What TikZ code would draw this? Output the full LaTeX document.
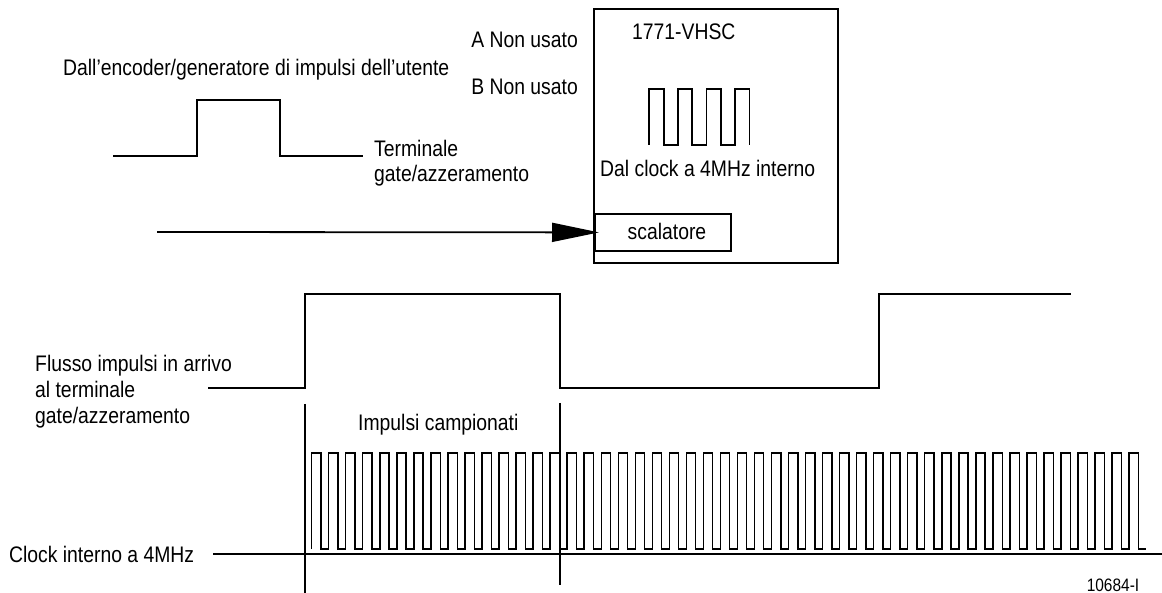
\documentclass[tikz,border=0pt]{standalone}
\usepackage{fontspec}
\setmainfont{Liberation Sans}[FakeStretch=0.86]
\usetikzlibrary{arrows.meta}

\tikzset{
  lbl/.style={font=\fontsize{22.5}{24}\selectfont, inner sep=0pt},
  wire/.style={line width=1.8pt, line join=miter},
  clk/.style={line width=1.4pt, line join=miter},
}

\begin{document}
\begin{tikzpicture}[x=1pt, y=-1pt]
  \useasboundingbox (0,0) rectangle (1162,593);

  % encoder pulse
  \draw[wire] (113,156) -- (197,156) -- (197,100) -- (280,100) -- (280,156) -- (363,156);
  \node[lbl, anchor=base west] (enc) at (63,76) {Dall'encoder/generatore di impulsi dell'utente};
  \node[lbl, anchor=base west] (term1) at (374,157) {Terminale};
  \node[lbl, anchor=base west] (term2) at (374,182) {gate/azzeramento};

  % module
  \draw[wire] (594,9) rectangle (838,263);
  \node[lbl, anchor=base west] (mod) at (632,40) {1771-VHSC};
  \node[lbl, anchor=base east] (chA) at (578,48) {A Non usato};
  \node[lbl, anchor=base east] (chB) at (578,95) {B Non usato};
  \draw[wire] (649.3,145) \foreach \k in {1,2,3} { -- ++(0,-55.7) -- ++(14.3,0) -- ++(0,55.7) -- ++(14.3,0) }
    -- ++(0,-55.7) -- ++(14.3,0) -- ++(0,55.7);
  \node[lbl, anchor=base west] (int) at (600,177) {Dal clock a 4MHz interno};
  \node[wire, draw, minimum width=136pt, minimum height=37pt, anchor=north west] (scal) at (594,213) {};
  \node[lbl, anchor=base] at (667,240) {scalatore};

  % gate input arrow
  \coordinate (src) at (157,232);
  \draw[wire, -{Triangle[length=47pt, width=19pt]}] (src) -- ([xshift=5pt]scal.west);

  % incoming pulse stream
  \draw[wire] (208,388) -- (305,388) -- (305,294) -- (560,294) -- (560,388) -- (879,388) -- (879,294) -- (1071,294);
  \node[lbl, anchor=base west] (in1) at (35,372) {Flusso impulsi in arrivo};
  \node[lbl, anchor=base west] (in2) at (35,398) {al terminale};
  \node[lbl, anchor=base west] (in3) at (35,424) {gate/azzeramento};

  % sampling window
  \draw[line width=1.6pt] (305,404) -- (305,593);
  \draw[line width=1.6pt] (560,403) -- (560,585);
  \node[lbl, anchor=base west] (samp) at (358,430) {Impulsi campionati};

  % 4MHz clock
  \draw[clk] (311.7,549) \foreach \k in {0,...,48} { -- ++(0,-96) -- ++(9.3,0) -- ++(0,96) -- ++(7.73,0) };
  \draw[wire] (213,554) -- (1162,554);
  \node[lbl, anchor=base west] (clkl) at (9,562) {Clock interno a 4MHz};
  \node[font=\fontsize{18}{19}\selectfont, inner sep=0pt, anchor=base] (fig) at (1113,591) {10684-I};
\end{tikzpicture}
\end{document}
